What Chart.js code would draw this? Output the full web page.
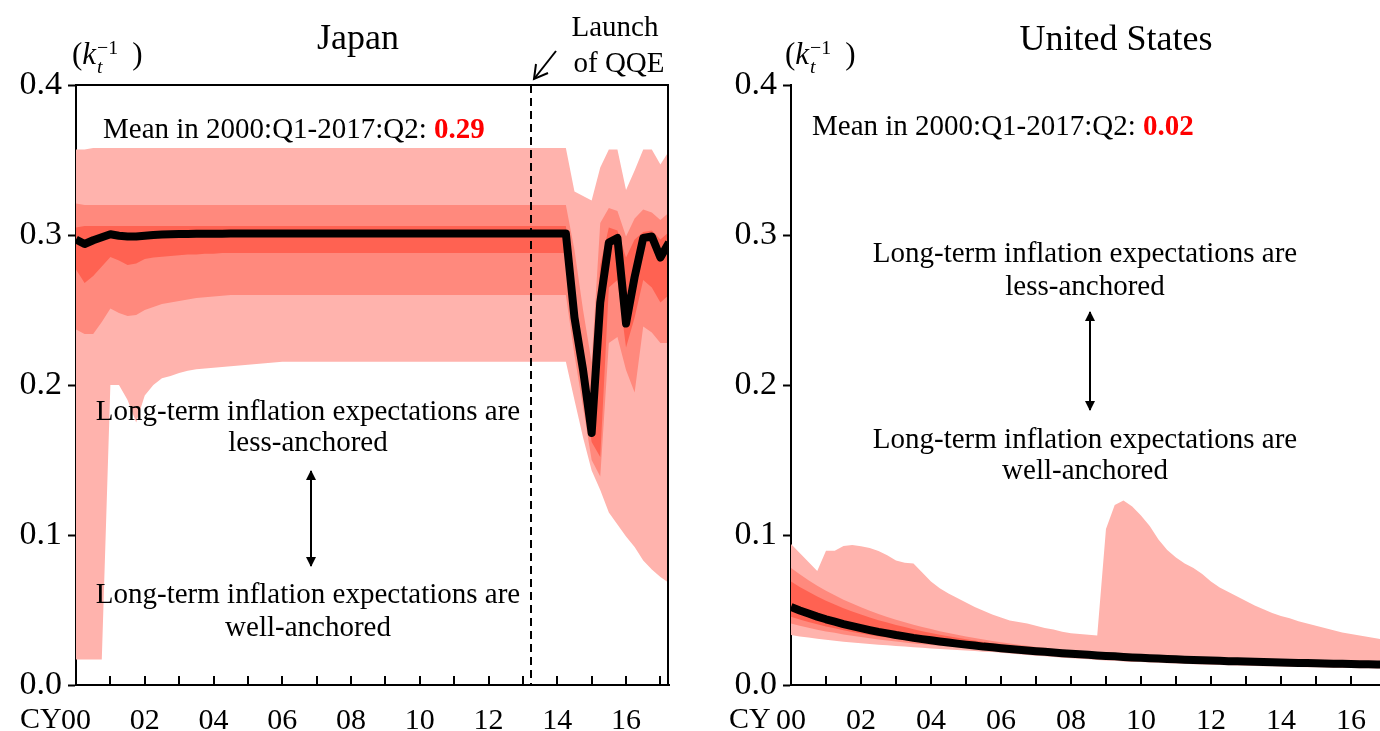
<!DOCTYPE html>
<html><head><meta charset="utf-8">
<script src="https://cdn.jsdelivr.net/npm/chart.js@4"></script>
<style>
html,body{margin:0;padding:0;background:#fff;}
#wrap{position:relative;width:1380px;height:731px;overflow:hidden;font-family:"Liberation Serif","Times New Roman",serif;color:#000;}
.t{position:absolute;white-space:nowrap;transform:translate(-50%,-50%);line-height:1;}
.l{position:absolute;white-space:nowrap;transform:translateY(-50%);line-height:1;}
.red{color:#ff0000;font-weight:bold;}
.ss{display:inline-block;vertical-align:middle;line-height:0.95;font-size:64%;margin-left:1px;margin-right:14px;}
.ss span{display:block;}
</style></head>
<body><div id="wrap">
<div style="position:absolute;left:0;top:0;width:700px;height:731px"><canvas id="jp"></canvas></div>
<div style="position:absolute;left:700px;top:0;width:680px;height:731px"><canvas id="us"></canvas></div>

<div class="t" style="left:358px;top:37px;font-size:36px">Japan</div>
<div class="t" style="left:1116px;top:38px;font-size:36px">United States</div>
<div class="t" style="left:615px;top:26px;font-size:29px">Launch</div>
<div class="t" style="left:619px;top:62px;font-size:29px">of QQE</div>

<div class="l" style="left:72px;top:57px;font-size:31px">(<i>k</i><span class="ss"><span>−1</span><span><i>t</i></span></span>)</div>
<div class="l" style="left:785px;top:57px;font-size:31px">(<i>k</i><span class="ss"><span>−1</span><span><i>t</i></span></span>)</div>

<div class="l" style="left:103px;top:128px;font-size:29px">Mean in 2000:Q1-2017:Q2: <span class="red">0.29</span></div>
<div class="l" style="left:812px;top:125px;font-size:29px">Mean in 2000:Q1-2017:Q2: <span class="red">0.02</span></div>

<div class="t" style="left:308px;top:410px;font-size:29px">Long-term inflation expectations are</div>
<div class="t" style="left:308px;top:441px;font-size:29px">less-anchored</div>
<div class="t" style="left:308px;top:593px;font-size:29px">Long-term inflation expectations are</div>
<div class="t" style="left:308px;top:626px;font-size:29px">well-anchored</div>

<div class="t" style="left:1085px;top:252px;font-size:29px">Long-term inflation expectations are</div>
<div class="t" style="left:1085px;top:285px;font-size:29px">less-anchored</div>
<div class="t" style="left:1085px;top:438px;font-size:29px">Long-term inflation expectations are</div>
<div class="t" style="left:1085px;top:469px;font-size:29px">well-anchored</div>

<div class="l" style="left:20px;top:718px;font-size:30px">CY</div>
<div class="l" style="left:729px;top:718px;font-size:30px">CY</div>

<svg width="1380" height="731" style="position:absolute;left:0;top:0;pointer-events:none">
<defs>
<marker id="ah" viewBox="0 0 10 10" refX="9" refY="5" markerWidth="5" markerHeight="5" orient="auto-start-reverse" markerUnits="strokeWidth">
<path d="M0,0 L10,5 L0,10 z" fill="#000"/></marker>
</defs>
<line x1="311" y1="471" x2="311" y2="566" stroke="#000" stroke-width="2" marker-start="url(#ah)" marker-end="url(#ah)"/>
<line x1="1090" y1="312" x2="1090" y2="410" stroke="#000" stroke-width="2" marker-start="url(#ah)" marker-end="url(#ah)"/>
<line x1="556" y1="51" x2="534" y2="79" stroke="#000" stroke-width="2"/>
<polyline points="536,64 534,79 548,73" fill="none" stroke="#000" stroke-width="2"/>
</svg>
</div>
<script>
// Quarterly periods 2000:Q1 - 2017:Q2
const quarters = [
"2000Q1","2000Q2","2000Q3","2000Q4","2001Q1","2001Q2","2001Q3","2001Q4","2002Q1","2002Q2",
"2002Q3","2002Q4","2003Q1","2003Q2","2003Q3","2003Q4","2004Q1","2004Q2","2004Q3","2004Q4",
"2005Q1","2005Q2","2005Q3","2005Q4","2006Q1","2006Q2","2006Q3","2006Q4","2007Q1","2007Q2",
"2007Q3","2007Q4","2008Q1","2008Q2","2008Q3","2008Q4","2009Q1","2009Q2","2009Q3","2009Q4",
"2010Q1","2010Q2","2010Q3","2010Q4","2011Q1","2011Q2","2011Q3","2011Q4","2012Q1","2012Q2",
"2012Q3","2012Q4","2013Q1","2013Q2","2013Q3","2013Q4","2014Q1","2014Q2","2014Q3","2014Q4",
"2015Q1","2015Q2","2015Q3","2015Q4","2016Q1","2016Q2","2016Q3","2016Q4","2017Q1","2017Q2"];
const tickYears = [2000,2002,2004,2006,2008,2010,2012,2014,2016];
const tickLabels = ["00","02","04","06","08","10","12","14","16"];
const yTicks = [0.0,0.1,0.2,0.3,0.4];
const qqeLaunch = "2013Q2";

// Japan
const jpMedian = [
0.297,0.294,0.2965,0.2985,0.3005,0.2995,0.299,0.299,0.2995,0.300,
0.3003,0.3005,0.3006,0.3007,0.3008,0.3008,0.3009,0.3009,0.301,0.301,
0.301,0.301,0.301,0.301,0.301,0.301,0.301,0.301,0.301,0.301,
0.301,0.301,0.301,0.301,0.301,0.301,0.301,0.301,0.301,0.301,
0.301,0.301,0.301,0.301,0.301,0.301,0.301,0.301,0.301,0.301,
0.301,0.301,0.301,0.301,0.301,0.301,0.301,0.301,0.245,0.21,
0.168,0.255,0.295,0.298,0.241,0.272,0.298,0.299,0.285,0.295];
const jpLightUpper = [
0.357,0.357,0.358,0.358,0.358,0.358,0.358,0.358,0.358,0.358,
0.358,0.358,0.358,0.358,0.358,0.358,0.358,0.358,0.358,0.358,
0.358,0.358,0.358,0.358,0.358,0.358,0.358,0.358,0.358,0.358,
0.358,0.358,0.358,0.358,0.358,0.358,0.358,0.358,0.358,0.358,
0.358,0.358,0.358,0.358,0.358,0.358,0.358,0.358,0.358,0.358,
0.358,0.358,0.358,0.358,0.358,0.358,0.358,0.358,0.329,0.326,
0.323,0.345,0.357,0.357,0.330,0.343,0.357,0.357,0.347,0.356];
const jpMedUpper = [
0.321,0.320,0.320,0.320,0.320,0.320,0.320,0.320,0.320,0.320,
0.320,0.320,0.320,0.320,0.320,0.320,0.320,0.320,0.320,0.320,
0.320,0.320,0.320,0.320,0.320,0.320,0.320,0.320,0.320,0.320,
0.320,0.320,0.320,0.320,0.320,0.320,0.320,0.320,0.320,0.320,
0.320,0.320,0.320,0.320,0.320,0.320,0.320,0.320,0.320,0.320,
0.320,0.320,0.320,0.320,0.320,0.320,0.320,0.320,0.290,0.250,
0.215,0.308,0.318,0.316,0.299,0.311,0.317,0.315,0.310,0.315];
const jpDarkUpper = [
0.305,0.306,0.306,0.306,0.306,0.306,0.306,0.306,0.306,0.306,
0.306,0.306,0.306,0.306,0.306,0.306,0.306,0.306,0.306,0.306,
0.306,0.306,0.306,0.306,0.306,0.306,0.306,0.306,0.306,0.306,
0.306,0.306,0.306,0.306,0.306,0.306,0.306,0.306,0.306,0.306,
0.306,0.306,0.306,0.306,0.306,0.306,0.306,0.306,0.306,0.306,
0.306,0.306,0.306,0.306,0.306,0.306,0.306,0.306,0.260,0.220,
0.185,0.280,0.305,0.303,0.285,0.297,0.302,0.303,0.297,0.302];
const jpDarkLower = [
0.277,0.268,0.2727,0.279,0.2853,0.283,0.280,0.281,0.284,0.285,
0.2855,0.286,0.2865,0.287,0.287,0.2875,0.2875,0.288,0.288,0.288,
0.288,0.288,0.288,0.288,0.288,0.288,0.288,0.288,0.288,0.288,
0.288,0.288,0.288,0.288,0.288,0.288,0.288,0.288,0.288,0.288,
0.288,0.288,0.288,0.288,0.288,0.288,0.288,0.288,0.288,0.288,
0.288,0.288,0.288,0.288,0.288,0.288,0.288,0.288,0.235,0.200,
0.162,0.152,0.265,0.270,0.225,0.245,0.270,0.265,0.255,0.260];
const jpMedLower = [
0.237,0.234,0.234,0.242,0.251,0.248,0.246,0.2467,0.250,0.252,
0.254,0.255,0.256,0.257,0.258,0.2585,0.259,0.2595,0.260,0.260,
0.260,0.260,0.260,0.260,0.260,0.260,0.260,0.260,0.260,0.260,
0.260,0.260,0.260,0.260,0.260,0.260,0.260,0.260,0.260,0.260,
0.260,0.260,0.260,0.260,0.260,0.260,0.260,0.260,0.260,0.260,
0.260,0.260,0.260,0.260,0.260,0.260,0.260,0.260,0.220,0.185,
0.150,0.139,0.228,0.232,0.210,0.195,0.239,0.235,0.228,0.228];
const jpLightLower = [
0.017,0.017,0.017,0.017,0.200,0.200,0.190,0.175,0.193,0.200,
0.2045,0.206,0.208,0.2095,0.2105,0.211,0.2115,0.212,0.2125,0.213,
0.2135,0.214,0.2145,0.215,0.2155,0.2155,0.2155,0.2155,0.2155,0.2155,
0.2155,0.2155,0.2155,0.2155,0.2155,0.2155,0.2155,0.2155,0.2155,0.2155,
0.2155,0.2155,0.2155,0.2155,0.2155,0.2155,0.2155,0.2155,0.2155,0.2155,
0.2155,0.2155,0.2155,0.2155,0.2155,0.2155,0.2155,0.2155,0.190,0.165,
0.143,0.130,0.115,0.107,0.099,0.092,0.083,0.077,0.072,0.068];

// United States
const usMedian = [
.0520,.0497,.0476,.0456,.0438,.0422,.0406,.0392,.0379,.0366,
.0354,.0344,.0333,.0324,.0314,.0306,.0298,.0290,.0283,.0276,
.0269,.0263,.0256,.0251,.0245,.0240,.0235,.0230,.0225,.0221,
.0217,.0212,.0208,.0205,.0201,.0197,.0194,.0191,.0187,.0184,
.0181,.0178,.0176,.0173,.0171,.0169,.0167,.0165,.0163,.0161,
.0159,.0158,.0156,.0155,.0153,.0152,.0150,.0149,.0147,.0146,
.0145,.0143,.0142,.0141,.0140,.0139,.0138,.0137,.0136,.0135];
const usLightUpper = [
.094,.088,.082,.076,.0895,.0895,.0927,.0933,.0925,.0913,
.0893,.0865,.083,.0815,.081,.075,.069,.0645,.061,.058,
.055,.052,.0495,.047,.045,.043,.042,.041,.0395,.038,
.037,.0355,.0345,.034,.0335,.033,.104,.120,.123,.119,
.113,.106,.097,.090,.085,.081,.078,.074,.069,.065,
.062,.059,.056,.053,.0505,.048,.046,.0445,.0425,.041,
.0395,.038,.0365,.035,.034,.033,.032,.031,.030,.029];
const usMedUpper = [
.0780,.0738,.0699,.0662,.0628,.0598,.0569,.0543,.0518,.0495,
.0473,.0454,.0435,.0418,.0401,.0387,.0373,.0359,.0347,.0335,
.0324,.0314,.0303,.0294,.0285,.0277,.0269,.0262,.0254,.0248,
.0242,.0235,.0231,.0228,.0224,.0220,.0217,.0214,.0210,.0207,
.0204,.0201,.0199,.0196,.0194,.0192,.0190,.0188,.0186,.0184,
.0182,.0181,.0179,.0178,.0176,.0175,.0173,.0172,.0170,.0169,
.0168,.0166,.0165,.0164,.0163,.0162,.0161,.0160,.0159,.0158];
const usDarkUpper = [
.0690,.0654,.0622,.0590,.0562,.0537,.0512,.0490,.0470,.0450,
.0432,.0416,.0400,.0386,.0371,.0359,.0347,.0335,.0325,.0315,
.0305,.0296,.0287,.0279,.0271,.0264,.0257,.0251,.0244,.0239,
.0233,.0227,.0223,.0220,.0216,.0212,.0209,.0206,.0202,.0199,
.0196,.0193,.0191,.0188,.0186,.0184,.0182,.0180,.0178,.0176,
.0174,.0173,.0171,.0170,.0168,.0167,.0165,.0164,.0162,.0161,
.0160,.0158,.0157,.0156,.0155,.0154,.0153,.0152,.0151,.0150];
const usDarkLower = [
.0455,.0437,.0420,.0405,.0390,.0378,.0365,.0354,.0344,.0334,
.0324,.0316,.0308,.0300,.0292,.0286,.0279,.0273,.0267,.0261,
.0255,.0250,.0244,.0240,.0235,.0231,.0226,.0222,.0218,.0214,
.0211,.0207,.0203,.0200,.0196,.0192,.0189,.0186,.0182,.0179,
.0176,.0173,.0171,.0168,.0166,.0164,.0162,.0160,.0158,.0156,
.0154,.0153,.0151,.0150,.0148,.0147,.0145,.0144,.0142,.0141,
.0140,.0138,.0137,.0136,.0135,.0134,.0133,.0132,.0131,.0130];
const usMedLower = [
.0410,.0395,.0382,.0369,.0357,.0348,.0337,.0328,.0320,.0311,
.0304,.0297,.0290,.0284,.0277,.0272,.0266,.0261,.0256,.0251,
.0246,.0242,.0236,.0233,.0228,.0224,.0220,.0217,.0213,.0210,
.0206,.0201,.0197,.0194,.0190,.0186,.0183,.0180,.0176,.0173,
.0170,.0167,.0165,.0162,.0160,.0158,.0156,.0154,.0152,.0150,
.0148,.0147,.0145,.0144,.0142,.0141,.0139,.0138,.0136,.0135,
.0134,.0132,.0131,.0130,.0129,.0128,.0127,.0126,.0125,.0124];
const usLightLower = [
.0333,.0324,.0316,.0308,.0301,.0295,.0289,.0284,.0279,.0273,
.0268,.0265,.0260,.0256,.0251,.0248,.0244,.0240,.0237,.0234,
.0230,.0227,.0222,.0220,.0215,.0210,.0205,.0200,.0195,.0191,
.0187,.0182,.0178,.0175,.0171,.0167,.0164,.0161,.0157,.0154,
.0153,.0150,.0148,.0145,.0143,.0141,.0139,.0137,.0135,.0133,
.0131,.0130,.0128,.0127,.0125,.0125,.0123,.0122,.0120,.0119,
.0118,.0116,.0115,.0114,.0113,.0112,.0111,.0110,.0109,.0108];

const LIGHT = "#ffb3ad", MED = "#ff897d", DARK = "#ff6252";
const FONT = "'Liberation Serif','Times New Roman',serif";

function qToX(q){ return parseInt(q.slice(0,4)) + (parseInt(q.slice(5))-1)/4; }
const qx = quarters.map(qToX);
const pts = arr => arr.map((v,i)=>({x: qx[i], y: v}));

const decor = {
  id: 'decor',
  afterDatasetsDraw(chart, args, opts){
    const {ctx, chartArea:a, scales:{x}} = chart;
    ctx.save();
    ctx.strokeStyle = '#000';
    ctx.lineWidth = 2;
    if (opts.dashAt) {
      const dx = Math.round(x.getPixelForValue(qToX(opts.dashAt)));
      ctx.setLineDash([8,5]);
      ctx.beginPath(); ctx.moveTo(dx, a.top); ctx.lineTo(dx, a.bottom); ctx.stroke();
      ctx.setLineDash([]);
    }
    if (opts.box) {
      ctx.beginPath();
      ctx.moveTo(a.left, a.top); ctx.lineTo(a.right-1, a.top); ctx.lineTo(a.right-1, a.bottom);
      ctx.stroke();
    }
    // inner x tick marks at each year boundary
    ctx.beginPath();
    x.ticks.forEach(t => {
      const px = Math.round(x.getPixelForValue(t.value));
      ctx.moveTo(px, a.bottom); ctx.lineTo(px, a.bottom-9);
    });
    ctx.stroke();
    ctx.restore();
  }
};

function makeChart(id, xMax, s, yWidth, padRight, opts){
  const line = (data, color, fill) => ({
    data: pts(data), borderWidth: 0, borderColor: 'transparent', pointRadius: 0,
    backgroundColor: color || 'transparent', fill: fill ? '+1' : false, tension: 0
  });
  return new Chart(document.getElementById(id), {
    type: 'line',
    data: { datasets: [
      { data: pts(s.median), borderColor: '#000', borderWidth: 8, pointRadius: 0, fill: false,
        tension: 0, borderJoinStyle: 'round', borderCapStyle: 'butt' },
      line(s.du, DARK, true), line(s.dl),
      line(s.mu, MED, true), line(s.ml),
      line(s.lu, LIGHT, true), line(s.ll)
    ]},
    options: {
      responsive: true, maintainAspectRatio: false, animation: false, devicePixelRatio: 1,
      events: [],
      layout: { padding: { top: 85, right: padRight, left: 0, bottom: 0 } },
      plugins: { legend: {display:false}, tooltip: {enabled:false}, title:{display:false}, decor: opts },
      scales: {
        x: { type: 'linear', min: 2000, max: xMax,
          afterFit: sc => { sc.height = 46; },
          grid: { display: false },
          border: { display: true, color: '#000', width: 2 },
          ticks: { stepSize: 1, includeBounds: false, autoSkip: false, maxRotation: 0,
            padding: 10, color: '#000', font: { family: FONT, size: 30 },
            callback: v => { const k = tickYears.indexOf(v); return k >= 0 ? tickLabels[k] : ''; } } },
        y: { type: 'linear', min: 0, max: 0.4,
          afterFit: sc => { sc.width = yWidth; },
          afterBuildTicks: sc => { sc.ticks = yTicks.map(v => ({value: v})); },
          grid: { drawOnChartArea: false, drawTicks: true, tickLength: 8, tickWidth: 2, tickColor: '#000' },
          border: { display: true, color: '#000', width: 2 },
          ticks: { padding: 6, color: '#000', font: { family: FONT, size: 34 },
            callback: v => v.toFixed(1) } }
      }
    },
    plugins: [decor]
  });
}

makeChart('jp', 2017.25, {median: jpMedian, du: jpDarkUpper, dl: jpDarkLower, mu: jpMedUpper, ml: jpMedLower, lu: jpLightUpper, ll: jpLightLower}, 76, 31, {box: true, dashAt: qqeLaunch});
makeChart('us', 2016.83, {median: usMedian, du: usDarkUpper, dl: usDarkLower, mu: usMedUpper, ml: usMedLower, lu: usLightUpper, ll: usLightLower}, 91, 0, {box: false});
</script>
</body></html>
